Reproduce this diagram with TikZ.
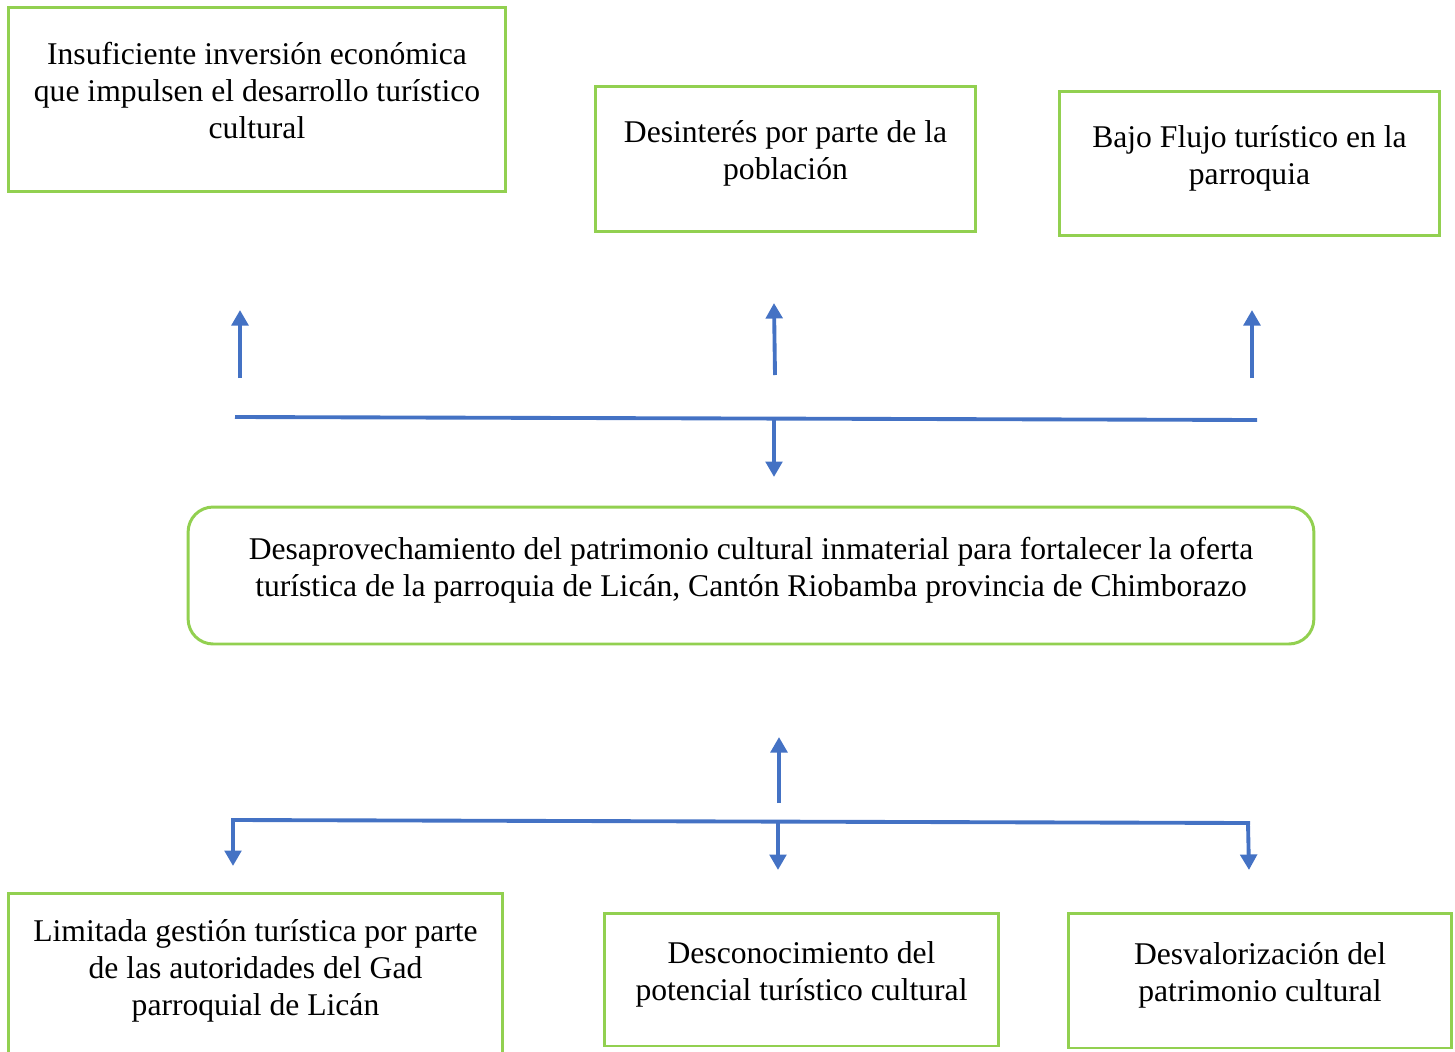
\documentclass[tikz,border=0pt]{standalone}
\usepackage{fontspec}
\setmainfont{Liberation Serif}
\usetikzlibrary{arrows.meta}

\definecolor{boxgreen}{HTML}{92D050}
\definecolor{lineblue}{HTML}{4472C4}

\begin{document}
\begin{tikzpicture}[x=0.02cm,y=-0.02cm,font=\fontsize{18}{21}\selectfont,
  box/.style={draw=boxgreen,line width=1.7pt,inner sep=0pt,align=center,text depth=10pt},
  link/.style={draw=lineblue,line width=2.2pt},
  flow/.style={link,-{Triangle[length=0.31cm,width=0.33cm]}}]
\useasboundingbox (0,0) rectangle (1455,1052);
% effects
\node[box,minimum width=9.96cm,minimum height=3.7cm] (eff1) at (257,99.5)
  {Insuficiente inversión económica\\que impulsen el desarrollo turístico\\cultural};
\node[box,minimum width=7.62cm,minimum height=2.92cm] (eff2) at (785.5,159)
  {Desinterés por parte de la\\población};
\node[box,minimum width=7.62cm,minimum height=2.9cm] (eff3) at (1249.5,163.5)
  {Bajo Flujo turístico en la\\parroquia};
% problem
\node[box,rounded corners=0.5cm,minimum width=22.52cm,minimum height=2.74cm] (prob) at (751,575.5)
  {Desaprovechamiento del patrimonio cultural inmaterial para fortalecer la oferta\\turística de la parroquia de Licán, Cantón Riobamba provincia de Chimborazo};
% causes
\node[box,minimum width=9.9cm,minimum height=3.34cm] (cau1) at (255.5,976.5)
  {Limitada gestión turística por parte\\de las autoridades del Gad\\parroquial de Licán};
\node[box,minimum width=7.9cm,minimum height=2.66cm] (cau2) at (801.5,979.5)
  {Desconocimiento del\\potencial turístico cultural};
\node[box,minimum width=7.68cm,minimum height=2.7cm] (cau3) at (1260,980.5)
  {Desvalorización del\\patrimonio cultural};

% upper connectors
\coordinate (ta) at (235,417);
\coordinate (tb) at (1257,420);
\coordinate (tm) at (774,420);
\coordinate (tm2) at (774,477);
\draw[link] (ta) -- (tb);
\draw[flow] (tm) -- (tm2);
\coordinate (u1) at (240,378); \coordinate (u1e) at (240,310);
\coordinate (u2) at (775,375); \coordinate (u2e) at (774,303);
\coordinate (u3) at (1252,378); \coordinate (u3e) at (1252,310);
\draw[flow] (u1) -- (u1e);
\draw[flow] (u2) -- (u2e);
\draw[flow] (u3) -- (u3e);

% lower connectors
\coordinate (bu) at (779,803); \coordinate (bue) at (779,737);
\draw[flow] (bu) -- (bue);
\coordinate (ba) at (233,820);
\coordinate (bb) at (1250,823);
\coordinate (bae) at (233,866);
\draw[flow] (bb) -- (ba) -- (bae);
\coordinate (bm) at (778,823); \coordinate (bme) at (778,870);
\coordinate (br) at (1248,823); \coordinate (bre) at (1249,870);
\draw[flow] (bm) -- (bme);
\draw[flow] (br) -- (bre);
\end{tikzpicture}
\end{document}
